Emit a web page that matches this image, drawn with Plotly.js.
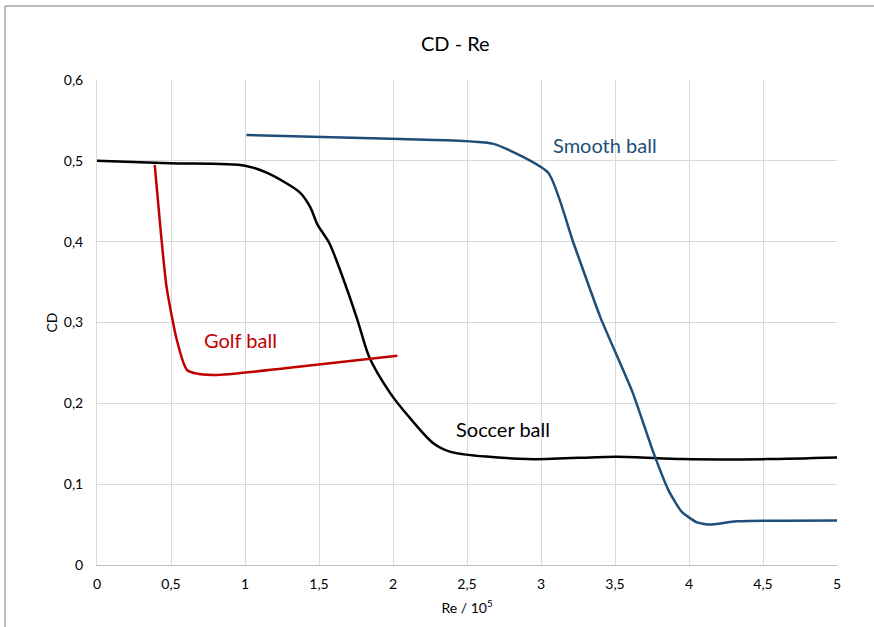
<!DOCTYPE html>
<html><head><meta charset="utf-8">
<script src="https://cdn.plot.ly/plotly-3.0.1.min.js"></script>
<style>html,body{margin:0;padding:0;background:#fff}#chart{width:874px;height:627px}</style>
</head><body><div id="chart"></div>
<script>
// Soccer ball
const soccerRe = [0, 0.49, 1.0, 1.15, 1.37, 1.44, 1.49, 1.57, 1.66, 1.76, 1.84, 1.98, 2.10, 2.27, 2.39, 2.91, 3.51, 3.96, 4.53, 5.0];
const soccerCD = [0.500, 0.497, 0.494, 0.485, 0.461, 0.443, 0.421, 0.398, 0.356, 0.303, 0.257, 0.213, 0.185, 0.151, 0.140, 0.131, 0.134, 0.131, 0.131, 0.133];
// Smooth ball
const smoothRe = [1.01, 2.05, 2.68, 3.05, 3.22, 3.40, 3.62, 3.76, 3.86, 3.95, 4.05, 4.14, 4.32, 5.0];
const smoothCD = [0.532, 0.527, 0.521, 0.485, 0.398, 0.307, 0.213, 0.139, 0.093, 0.066, 0.053, 0.050, 0.054, 0.055];
// Golf ball
const golfRe = [0.39, 0.43, 0.47, 0.54, 0.61, 0.78, 1.30, 2.03];
const golfCD = [0.495, 0.414, 0.344, 0.278, 0.241, 0.235, 0.244, 0.259];

const labels = [
  {text: 'Smooth ball', x: 3.43, y: 0.519, color: '#1F4E79'},
  {text: 'Soccer ball', x: 2.74, y: 0.168, color: '#000000'},
  {text: 'Golf ball', x: 0.97, y: 0.278, color: '#C00000'}
];

const FONT = 'Lato, "Open Sans", sans-serif';
const traces = [
  {x: soccerRe, y: soccerCD, name: 'Soccer ball', mode: 'lines', line: {color: '#000000', width: 2.5, shape: 'spline', smoothing: 0.8}},
  {x: smoothRe, y: smoothCD, name: 'Smooth ball', mode: 'lines', line: {color: '#1F4E79', width: 2.5, shape: 'spline', smoothing: 0.5}},
  {x: golfRe, y: golfCD, name: 'Golf ball', mode: 'lines', line: {color: '#C00000', width: 2.5, shape: 'spline', smoothing: 0.6}}
];

const layout = {
  width: 874, height: 627,
  margin: {l: 97, r: 37, t: 80, b: 62},
  paper_bgcolor: '#ffffff', plot_bgcolor: '#ffffff',
  separators: ', ',
  showlegend: false,
  font: {family: FONT, color: '#000000', size: 14},
  title: {text: 'CD - Re', x: 0.521, xanchor: 'center', y: 0.93, yanchor: 'middle', font: {family: FONT, size: 20, color: '#000000'}},
  xaxis: {
    range: [0, 5], dtick: 0.5, tick0: 0,
    showgrid: true, gridcolor: '#d9d9d9', gridwidth: 1,
    showline: true, linecolor: '#bfbfbf', linewidth: 1,
    zeroline: false, ticks: '', ticklen: 0, ticklabelstandoff: 6,
    tickfont: {family: FONT, size: 14, color: '#000'},
    title: {text: 'Re / 10<sup>5</sup>', standoff: 12, font: {family: FONT, size: 14, color: '#000'}}
  },
  yaxis: {
    range: [0, 0.6], dtick: 0.1, tick0: 0,
    showgrid: true, gridcolor: '#d9d9d9', gridwidth: 1,
    showline: true, linecolor: '#d9d9d9', linewidth: 1,
    zeroline: false, ticks: '', ticklen: 0, ticklabelstandoff: 10,
    tickfont: {family: FONT, size: 14, color: '#000'},
    title: {text: 'CD', standoff: 2, font: {family: FONT, size: 14, color: '#000'}}
  },
  annotations: labels.map(l => ({
    text: l.text, x: l.x, y: l.y, xref: 'x', yref: 'y', showarrow: false,
    font: {family: FONT, size: 20, color: l.color}
  })),
  shapes: [
    {type: 'line', xref: 'paper', yref: 'paper', x0: -0.1243, x1: -0.1243, y0: -0.2, y1: 1.1526, line: {color: '#a6a6a6', width: 1.5}},
    {type: 'line', xref: 'paper', yref: 'paper', x0: -0.1243, x1: 1.1, y0: 1.1526, y1: 1.1526, line: {color: '#a6a6a6', width: 1.5}}
  ]
};

Plotly.newPlot('chart', traces, layout, {displayModeBar: false, staticPlot: true});
</script>
</body></html>
